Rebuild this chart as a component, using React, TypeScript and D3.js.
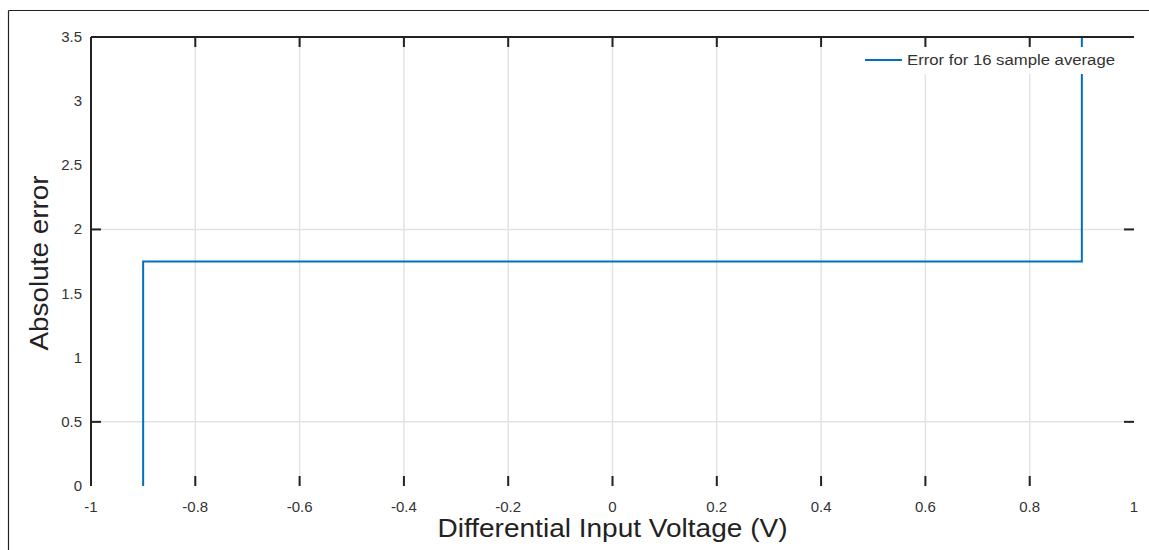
import React from 'react';
import * as d3 from 'd3';

// step data for the 16 sample average error
const voltage = [-0.9, -0.9, 0.9, 0.9];
const absError = [0, 1.75, 1.75, 3.6];

const xTicks = [-1, -0.8, -0.6, -0.4, -0.2, 0, 0.2, 0.4, 0.6, 0.8, 1];
const xTickLabels = ['-1', '-0.8', '-0.6', '-0.4', '-0.2', '0', '0.2', '0.4', '0.6', '0.8', '1'];
const yTicks = [0, 0.5, 1, 1.5, 2, 2.5, 3, 3.5];
const yTickLabels = ['0', '0.5', '1', '1.5', '2', '2.5', '3', '3.5'];
const yGrid = [0.5, 2];

const legendLabel = 'Error for 16 sample average';

const W = 1149;
const H = 550;
const margin = { top: 37, right: 15, bottom: 64, left: 91 };
const blue = '#0072BD';

const App = () => {
    const innerW = W - margin.left - margin.right;
    const innerH = H - margin.top - margin.bottom;

    const x = d3.scaleLinear().domain([-1, 1]).range([0, innerW]);
    const y = d3.scaleLinear().domain([0, 3.5]).range([innerH, 0]);

    const line = d3
        .line<number>()
        .x((d, i) => x(voltage[i]))
        .y(d => y(Math.min(d, 3.5)));

    const font = '"Liberation Sans", Arial, sans-serif';
    const tickLen = 10;

    return (
        <svg width={W} height={H} style={{ position: 'absolute', left: 0, top: 0 }}>
            <rect width={W} height={H} fill="#fff" />
            {/* outer frame (only left and top edges inside the view) */}
            <line x1={8.5} y1={10.5} x2={W} y2={10.5} stroke="#222" strokeWidth={1.2} />
            <line x1={8.5} y1={10.5} x2={8.5} y2={H} stroke="#222" strokeWidth={1.2} />

            <g transform={`translate(${margin.left},${margin.top})`}>
                {/* grid */}
                {xTicks.slice(1, -1).map(t => (
                    <line key={'gx' + t} x1={x(t)} x2={x(t)} y1={0} y2={innerH} stroke="#e3e3e3" strokeWidth={1.5} />
                ))}
                {yGrid.map(t => (
                    <line key={'gy' + t} x1={0} x2={innerW} y1={y(t)} y2={y(t)} stroke="#e3e3e3" strokeWidth={1.5} />
                ))}

                {/* data */}
                <path d={line(absError) || ''} fill="none" stroke={blue} strokeWidth={2} />

                {/* axes lines */}
                <line x1={0} x2={innerW} y1={0} y2={0} stroke="#222" strokeWidth={2} />
                <line x1={0} x2={0} y1={0} y2={innerH} stroke="#222" strokeWidth={2} />

                {/* x ticks top & bottom */}
                {xTicks.slice(1, -1).map(t => (
                    <g key={'xt' + t}>
                        <line x1={x(t)} x2={x(t)} y1={0} y2={tickLen} stroke="#222" strokeWidth={2} />
                        <line x1={x(t)} x2={x(t)} y1={innerH} y2={innerH - tickLen} stroke="#222" strokeWidth={2} />
                    </g>
                ))}
                {/* y ticks left & right */}
                {yGrid.map(t => (
                    <g key={'yt' + t}>
                        <line x1={0} x2={tickLen} y1={y(t)} y2={y(t)} stroke="#222" strokeWidth={2} />
                        <line x1={innerW} x2={innerW - tickLen} y1={y(t)} y2={y(t)} stroke="#222" strokeWidth={2} />
                    </g>
                ))}

                {/* tick labels */}
                {xTicks.map((t, i) => (
                    <text key={'xl' + t} x={x(t)} y={innerH + 26} textAnchor="middle" fontFamily={font} fontSize={15} fill="#333">
                        {xTickLabels[i]}
                    </text>
                ))}
                {yTicks.map((t, i) => (
                    <text key={'yl' + t} x={-9} y={y(t) + 5} textAnchor="end" fontFamily={font} fontSize={15} fill="#333">
                        {yTickLabels[i]}
                    </text>
                ))}

                {/* axis titles */}
                <text x={innerW / 2} y={innerH + 51} textAnchor="middle" fontFamily={font} fontSize={25} fill="#222"
                    textLength={350} lengthAdjust="spacingAndGlyphs">
                    Differential Input Voltage (V)
                </text>
                <text transform={`translate(${-43},${226}) rotate(-90)`} textAnchor="middle" fontFamily={font} fontSize={25} fill="#222"
                    textLength={175} lengthAdjust="spacingAndGlyphs">
                    Absolute error
                </text>

                {/* legend */}
                <g transform={`translate(${innerW - 275},${10})`}>
                    <rect x={0} y={0} width={265} height={27} fill="#fff" />
                    <line x1={6} x2={43} y1={13} y2={13} stroke={blue} strokeWidth={2} />
                    <text x={48} y={18} fontFamily={font} fontSize={14} fill="#333"
                        textLength={208} lengthAdjust="spacingAndGlyphs">
                        {legendLabel}
                    </text>
                </g>
            </g>
        </svg>
    );
};

export default App;
